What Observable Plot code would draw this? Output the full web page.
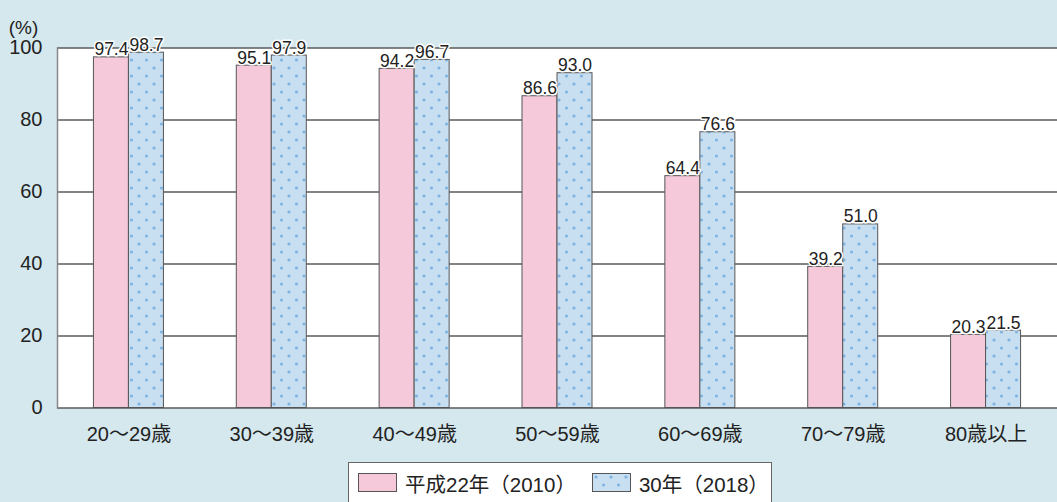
<!DOCTYPE html>
<html><head><meta charset="utf-8">
<script src="https://cdn.jsdelivr.net/npm/d3@7"></script>
<script src="https://cdn.jsdelivr.net/npm/@observablehq/plot@0.6"></script>
<style>
html,body{margin:0;padding:0;background:#d4e8ee;}
body{width:1057px;height:502px;overflow:hidden;font-family:"Liberation Sans","Noto Sans CJK JP",sans-serif;color:#222;}
#legend{position:absolute;left:348px;top:462px;width:424px;height:42px;background:#fff;border:1.5px solid #666;box-sizing:border-box;display:flex;align-items:center;font-size:20.5px;}
#legend .item{display:flex;align-items:center;}
#legend svg{display:block;}
</style>
</head><body>
<div id="chart"></div>
<div id="legend"></div>
<script>
const categories = ["20～29歳","30～39歳","40～49歳","50～59歳","60～69歳","70～79歳","80歳以上"];
const series = ["平成22年（2010）","30年（2018）"];
const v2010 = [97.4,95.1,94.2,86.6,64.4,39.2,20.3];
const v2018 = [98.7,97.9,96.7,93.0,76.6,51.0,21.5];
const yTicks = [0,20,40,60,80,100];

const data = [];
categories.forEach((c,i)=>{
  data.push({cat:c, s:series[0], v:v2010[i]});
  data.push({cat:c, s:series[1], v:v2018[i]});
});
const d10 = data.filter(d=>d.s===series[0]);
const d18 = data.filter(d=>d.s===series[1]);

const W = 1057, ML = 57, MR = 0;
const bw = (W-ML-MR)/categories.length;
const barW = 35;
const fnt = "Liberation Sans, Noto Sans CJK JP, sans-serif";

const plot = Plot.plot({
  width: W, height: 455,
  marginLeft: ML, marginRight: MR, marginTop: 47.5, marginBottom: 47.5,
  style: {background:"transparent", fontFamily: fnt, color:"#222"},
  x: {type:"band", domain: categories, padding: 0, round: false, label: null},
  y: {domain:[0,100], label: null},
  marks: [
    Plot.frame({fill:"white", stroke:null}),
    Plot.ruleY(yTicks, {stroke:"#5a5a5a", strokeWidth:1.6}),
    Plot.frame({anchor:"left", stroke:"#888", strokeWidth:1.5}),
    Plot.barY(d10, {x:"cat", y:"v", fill:"#f5c9da", stroke:"#555", strokeWidth:1,
      insetLeft: bw/2 - barW, insetRight: bw/2}),
    Plot.barY(d18, {x:"cat", y:"v", fill:"url(#dots)", stroke:"#555", strokeWidth:1,
      insetLeft: bw/2, insetRight: bw/2 - barW}),
    Plot.text(d10, {x:"cat", y:"v", text:d=>d.v.toFixed(1), dx:-barW/2, dy:-2, lineAnchor:"bottom",
      fontSize:17.5, fill:"#222", stroke:"white", strokeWidth:3}),
    Plot.text(d18, {x:"cat", y:"v", text:d=>d.v.toFixed(1), dx:barW/2, dy:-2, lineAnchor:"bottom",
      fontSize:17.5, fill:"#222", stroke:"white", strokeWidth:3}),
    Plot.axisY({ticks:yTicks, tickSize:0, tickPadding:15, fontSize:20, label:null}),
    Plot.axisX({tickSize:0, tickPadding:19, fontSize:20, label:null}),
    Plot.text(["(%)"], {frameAnchor:"top-left", dx:-34, dy:-27.5, textAnchor:"middle", fontSize:19, fill:"#222"})
  ]
});

function addPattern(svgSel, id){
  const defs = svgSel.insert("defs", ":first-child");
  const p = defs.append("pattern").attr("id", id).attr("patternUnits","userSpaceOnUse")
    .attr("width",15).attr("height",16);
  p.append("rect").attr("width",15).attr("height",16).attr("fill","#c8dff1");
  p.append("circle").attr("cx",4).attr("cy",4).attr("r",1.6).attr("fill","#7fb3e3");
  p.append("circle").attr("cx",11.5).attr("cy",12).attr("r",1.6).attr("fill","#7fb3e3");
}
addPattern(d3.select(plot), "dots");
document.getElementById("chart").appendChild(plot);

// legend
const leg = d3.select("#legend");
const fills = ["#f5c9da","url(#dots2)"];
series.forEach((s,i)=>{
  const it = leg.append("div").attr("class","item").style("margin-left", i===0?"9px":"16px");
  const sv = it.append("svg").attr("width",40).attr("height",20);
  if(i===1) addPattern(sv, "dots2");
  sv.append("rect").attr("x",0.5).attr("y",0.5).attr("width",38).attr("height",18)
    .attr("fill", fills[i]).attr("stroke","#555");
  it.append("span").style("margin-left","7px").text(s);
});
</script>
</body></html>
